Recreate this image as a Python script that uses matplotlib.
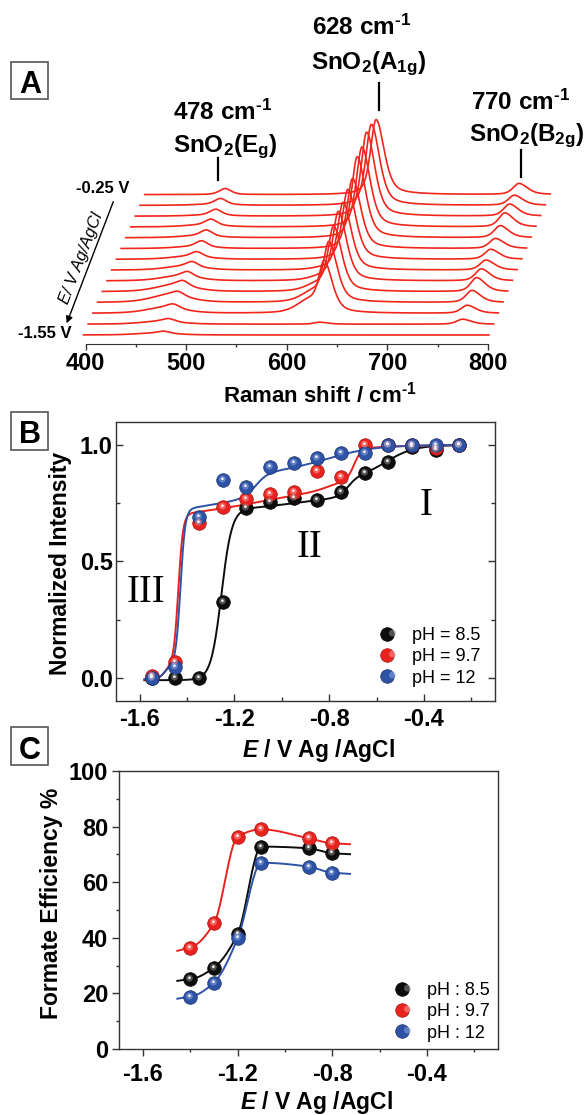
import numpy as np
import matplotlib
matplotlib.use("Agg")
import matplotlib.pyplot as plt
from matplotlib.path import Path
from matplotlib.patches import Rectangle
from matplotlib.legend_handler import HandlerTuple
from matplotlib.ticker import FixedLocator

plt.rcParams['font.family'] = ['Liberation Sans', 'DejaVu Sans']
plt.rcParams['font.weight'] = 'bold'
plt.rcParams['axes.unicode_minus'] = False
plt.rcParams['mathtext.fontset'] = 'custom'
plt.rcParams['mathtext.rm'] = 'Liberation Sans:bold'
plt.rcParams['mathtext.bf'] = 'Liberation Sans:bold'
plt.rcParams['mathtext.it'] = 'Liberation Sans:bold:italic'

W, H = 586, 1115

# ---------------- data ----------------
# panel A: Raman spectra, index 0 = -1.55 V (front) ... 13 = -0.25 V (back)
spectra_potential = [-1.55, -1.45, -1.35, -1.25, -1.15, -1.05, -0.95,
                     -0.85, -0.75, -0.65, -0.55, -0.45, -0.35, -0.25]
raman_shift = np.linspace(398, 801, 900)
a1g_height = [0, 2, 48, 57, 63, 68, 67, 70, 70, 81, 80, 84, 81, 75]
shoulder_height = [0, 0, 12, 10, 7, 4, 2, 0, 0, 0, 0, 0, 0, 0]
eg_height = [2, 3, 4, 4, 5, 5, 5, 5, 6, 6, 6, 6, 6, 6]
eg_broad_height = [2, 3, 6, 8, 7, 5, 4, 3, 2, 2, 2, 1, 1, 0]
b2g_height = [0, 5, 8, 12, 14, 12, 10, 10, 10, 12, 14, 12, 10, 11]
band_center = {'Eg': 478, 'A1g': 628, 'B2g': 770, 'shoulder': 612, 'broad': 470}
shift_ticks = [400, 500, 600, 700, 800]

# panel B: normalized A1g intensity
pot_b = [-1.55, -1.45, -1.35, -1.25, -1.15, -1.05, -0.95,
         -0.85, -0.75, -0.65, -0.55, -0.45, -0.35, -0.25]
int_ph85 = [0.0, 0.0, 0.0, 0.327, 0.728, 0.754, 0.771,
            0.764, 0.80, 0.881, 0.927, 0.993, 0.979, 1.0]
int_ph97 = [0.01, 0.067, 0.664, 0.735, 0.768, 0.79, 0.80,
            0.888, 0.864, 1.0, 1.0, 1.0, 0.985, 1.0]
int_ph12 = [0.0, 0.046, 0.69, 0.85, 0.821, 0.904, 0.924,
            0.943, 0.967, 0.967, 1.0, 1.0, 1.0, 1.0]
# multi-step Boltzmann fits (offset, centers, heights, widths)
fit_ph85 = (-0.01, [-1.255, -0.95, -0.72, -0.56], [0.73, 0.06, 0.08, 0.14],
            [0.022, 0.12, 0.02, 0.06])
fit_ph97 = (-0.02, [-1.495, -1.437, -1.1, -0.8, -0.695],
            [0.05, 0.65, 0.15, 0.04, 0.132], [0.012, 0.01, 0.2, 0.04, 0.015])
fit_ph12 = (-0.01, [-1.495, -1.428, -1.25, -1.11, -0.8],
            [0.05, 0.67, 0.08, 0.10, 0.11], [0.012, 0.01, 0.12, 0.025, 0.1])

# panel C: formate faradaic efficiency
pot_c = [-1.4, -1.3, -1.2, -1.1, -0.9, -0.8]
fe_ph85 = [25.1, 29.3, 41.4, 72.8, 72.2, 70.4]
fe_ph97 = [36.5, 45.2, 76.4, 79.0, 75.8, 74.0]
fe_ph12 = [18.8, 23.9, 39.8, 67.0, 65.6, 63.4]

labels_b = ['pH = 8.5', 'pH = 9.7', 'pH = 12']
labels_c = ['pH : 8.5', 'pH : 9.7', 'pH : 12']

# ---------------- styling ----------------
BLACK, RED, BLUE = '#0d0d0d', '#e8231f', '#2d52a6'
GLOW = {BLACK: '#8c8c8c', RED: '#ff9a96', BLUE: '#8fa5dd'}
EDGE = {BLACK: '#000000', RED: '#a51512', BLUE: '#1b3270'}
SPINE = '#333333'
MS = 9.8
INV = r'$^{\text{-1}}$'

fig = plt.figure(figsize=(W / 100, H / 100), dpi=100)


def axes_px(l, t, r, b):
    return fig.add_axes([l / W, 1 - b / H, (r - l) / W, (b - t) / H])


def ftext(x, y, s, **kw):
    return fig.text(x / W, 1 - y / H, s, **kw)


def band(x, c, h, wl, wr):
    w = np.where(x < c, wl, wr)
    u = (x - c) / w
    return h * (0.5 / (1 + u ** 2) + 0.5 * np.exp(-np.log(2) * u ** 2))


def steps(x, fit):
    y0, cs, hs, ws = fit
    y = np.full_like(x, y0)
    for c, h, w in zip(cs, hs, ws):
        y += h / (1 + np.exp(-(x - c) / w))
    return y


def pchip(xk, yk, xs, end_scale=0.25):
    xk = np.asarray(xk, float)
    yk = np.asarray(yk, float)
    h = np.diff(xk)
    d = np.diff(yk) / h
    m = np.zeros_like(yk)
    for k in range(1, len(xk) - 1):
        if d[k - 1] * d[k] > 0:
            w1 = 2 * h[k] + h[k - 1]
            w2 = h[k] + 2 * h[k - 1]
            m[k] = (w1 + w2) / (w1 / d[k - 1] + w2 / d[k])
    m[0] = end_scale * d[0]
    m[-1] = end_scale * d[-1]
    idx = np.clip(np.searchsorted(xk, xs) - 1, 0, len(xk) - 2)
    t = (xs - xk[idx]) / h[idx]
    hh = h[idx]
    ys = ((2 * t ** 3 - 3 * t ** 2 + 1) * yk[idx] + (t ** 3 - 2 * t ** 2 + t) * hh * m[idx]
          + (-2 * t ** 3 + 3 * t ** 2) * yk[idx + 1] + (t ** 3 - t ** 2) * hh * m[idx + 1])
    lo = xs < xk[0]
    hi = xs > xk[-1]
    ys[lo] = yk[0] + m[0] * (xs[lo] - xk[0])
    ys[hi] = yk[-1] + m[-1] * (xs[hi] - xk[-1])
    return ys


def glint(cx, cy, r):
    return Path.make_compound_path(
        Path([[-0.5, -0.5], [0.5, 0.5]], [Path.MOVETO, Path.MOVETO]),
        Path.circle((cx, cy), r))


def balls(ax, x, y, color):
    kw = dict(ls='none', ms=MS, clip_on=False)
    base = ax.plot(x, y, marker='o', mfc=color, mec=EDGE[color], mew=0.5, zorder=4, **kw)[0]
    soft = ax.plot(x, y, marker=glint(-0.08, 0.1, 0.25), mfc=GLOW[color], mec='none',
                   alpha=0.55, zorder=4.1, **kw)[0]
    spot = ax.plot(x, y, marker=glint(-0.08, 0.13, 0.1), mfc='white', mec='none',
                   alpha=0.9, zorder=4.2, **kw)[0]
    return (base, soft, spot)


def box_label(x0, y0, x1, y1, letter, cx, base):
    fig.add_artist(Rectangle((x0 / W, 1 - y1 / H), (x1 - x0) / W, (y1 - y0) / H,
                             transform=fig.transFigure, fill=False, ec='#555555', lw=1.2))
    ftext(cx, base, letter, ha='center', va='baseline', fontsize=22, fontweight='bold')


def frame(ax):
    for s in ax.spines.values():
        s.set_color(SPINE)
        s.set_linewidth(1.0)


def legend_px(ax, handles, labels, left, top):
    ax.legend(handles, labels, handler_map={tuple: HandlerTuple(ndivide=None, pad=0)},
              loc='upper left', bbox_to_anchor=(left / W, 1 - top / H),
              bbox_transform=fig.transFigure, frameon=False, borderpad=0,
              borderaxespad=0, handlelength=1.0, handletextpad=0.57, labelspacing=0.24,
              numpoints=1, prop={'size': 13, 'weight': 'normal'})


# ---------------- panel A ----------------
ax_a = axes_px(70, 100, 560, 344)
px_per_cm, x400 = 1.006, 85.5
ax_a.set_xlim(400 - (x400 - 70) / px_per_cm, 400 + (560 - x400) / px_per_cm)
ax_a.set_ylim(0, 244)
ax_a.patch.set_visible(False)
for s in ['top', 'right', 'left']:
    ax_a.spines[s].set_visible(False)
ax_a.spines['bottom'].set_bounds(400, 800)
ax_a.spines['bottom'].set_color(SPINE)
ax_a.set_yticks([])
ax_a.set_xticks(shift_ticks)
ax_a.xaxis.set_minor_locator(FixedLocator([450, 550, 650, 750]))
ax_a.tick_params(axis='x', which='major', direction='out', length=4, width=1,
                 color=SPINE, labelsize=17, pad=1.5)
ax_a.tick_params(axis='x', which='minor', direction='out', length=2.2, width=1, color=SPINE)

dx_trace, dy_trace, y_first = 4.68, 10.8, 9.0
for i in range(len(spectra_potential) - 1, -1, -1):
    x = raman_shift
    y = (band(x, band_center['A1g'], a1g_height[i], 6.5, 9.5)
         + band(x, band_center['shoulder'], shoulder_height[i], 14, 14)
         + band(x, band_center['Eg'], eg_height[i], 7, 7)
         + band(x, band_center['broad'], eg_broad_height[i], 22, 22)
         + band(x, band_center['B2g'], b2g_height[i], 7, 10))
    ax_a.plot(x + i * dx_trace, y_first + i * dy_trace + y, color='#f0261c',
              lw=1.2, clip_on=False, solid_joinstyle='round')

# peak markers and labels
for pos, y0, y1 in [(532, 164, 186), (692, 234, 261), (833, 167, 194)]:
    ax_a.plot([pos, pos], [y0, y1], color='black', lw=1.6, clip_on=False)

ftext(223, 120, '478 cm' + INV, ha='center', va='baseline', fontsize=17.5)
ftext(225, 152.5, r'SnO$_2$(E$_\mathrm{g}$)', ha='center', va='baseline', fontsize=17.5)
ftext(362, 35, '628 cm' + INV, ha='center', va='baseline', fontsize=17.5)
ftext(369, 69.5, r'SnO$_2$(A$_\mathrm{1g}$)', ha='center', va='baseline', fontsize=17.5)
ftext(521, 109.5, '770 cm' + INV, ha='center', va='baseline', fontsize=17.5)
ftext(527, 141.5, r'SnO$_2$(B$_\mathrm{2g}$)', ha='center', va='baseline', fontsize=17.5)

ftext(103, 193, '-0.25 V', ha='center', va='baseline', fontsize=12)
ftext(45, 338, '-1.55 V', ha='center', va='baseline', fontsize=12)
ax_a.annotate('', xy=(66.7, H - 323.3), xytext=(113.3, H - 201.7),
              xycoords='figure pixels', textcoords='figure pixels',
              arrowprops=dict(arrowstyle='-|>', lw=1.0, color='black',
                              mutation_scale=10, shrinkA=0, shrinkB=0))
ftext(81, 258, 'E/ V Ag/AgCl', ha='center', va='center', rotation=69,
      fontsize=12, fontstyle='italic', fontweight='normal')
ftext(320, 403, 'Raman shift / cm' + INV, ha='center', va='baseline', fontsize=16)
box_label(10.5, 62, 48, 99, 'A', 30, 93.3)

# ---------------- panel B ----------------
ax_b = axes_px(116, 421.7, 495, 701.3)
ax_b.set_xlim(-1.7, -0.1)
ax_b.set_ylim(-0.1, 1.1)
frame(ax_b)
ax_b.set_xticks([-1.6, -1.2, -0.8, -0.4])
ax_b.xaxis.set_minor_locator(FixedLocator([-1.4, -1.0, -0.6, -0.2]))
ax_b.set_yticks([0.0, 0.5, 1.0])
ax_b.yaxis.set_minor_locator(FixedLocator([0.25, 0.75]))
ax_b.tick_params(which='both', direction='in', right=True, top=False, width=1, color=SPINE)
ax_b.tick_params(which='major', length=5, labelsize=17)
ax_b.tick_params(which='minor', length=3)
ax_b.tick_params(axis='x', pad=5)
ax_b.tick_params(axis='y', pad=2.5)

fit_x = np.linspace(-1.58, -0.25, 600)
for fit, col in [(fit_ph85, BLACK), (fit_ph97, RED), (fit_ph12, BLUE)]:
    ax_b.plot(fit_x, steps(fit_x, fit), color=col, lw=1.4, zorder=3)
handles_b = [balls(ax_b, pot_b, vals, col)
             for vals, col in [(int_ph85, BLACK), (int_ph97, RED), (int_ph12, BLUE)]]

for s, x, y in [('I', -0.39, 0.742), ('II', -0.885, 0.562), ('III', -1.572, 0.365)]:
    ax_b.text(x, y, s, ha='center', va='center', fontsize=28, fontweight='normal',
              family=['Liberation Serif', 'DejaVu Serif'])

legend_px(ax_b, handles_b, labels_b, 384, 627)

ftext(60, 563, 'Normalized Intensity', ha='center', va='center', rotation=90, fontsize=16.5)
ftext(318, 757, r'$\mathit{E}$ / V Ag /AgCl', ha='center', va='baseline', fontsize=16.5)
box_label(10.5, 412, 48, 450, 'B', 29.6, 443.3)

# ---------------- panel C ----------------
ax_c = axes_px(119.3, 771, 498, 1049)
ax_c.set_xlim(-1.7, -0.1)
ax_c.set_ylim(0, 100)
frame(ax_c)
ax_c.set_xticks([-1.6, -1.2, -0.8, -0.4])
ax_c.xaxis.set_minor_locator(FixedLocator([-1.4, -1.0, -0.6, -0.2]))
ax_c.set_yticks([0, 20, 40, 60, 80, 100])
ax_c.yaxis.set_minor_locator(FixedLocator([10, 30, 50, 70, 90]))
ax_c.tick_params(which='both', direction='out', width=1, color=SPINE)
ax_c.tick_params(which='major', length=5, labelsize=17)
ax_c.tick_params(which='minor', length=2.5)
ax_c.tick_params(axis='x', pad=5)
ax_c.tick_params(axis='y', pad=3)

curve_x = np.linspace(-1.455, -0.725, 500)
for vals, col in [(fe_ph85, BLACK), (fe_ph97, RED), (fe_ph12, BLUE)]:
    ax_c.plot(curve_x, pchip(pot_c, vals, curve_x), color=col, lw=1.4, zorder=3)
handles_c = [balls(ax_c, pot_c, vals, col)
             for vals, col in [(fe_ph85, BLACK), (fe_ph97, RED), (fe_ph12, BLUE)]]

legend_px(ax_c, handles_c, labels_c, 399, 982)

ftext(51.5, 903, 'Formate Efficiency %', ha='center', va='center', rotation=90, fontsize=16.5)
ftext(316, 1109, r'$\mathit{E}$ / V Ag /AgCl', ha='center', va='baseline', fontsize=16.5)
box_label(10.5, 727, 48, 765, 'C', 29.6, 759.3)

fig.savefig('out.png', dpi=100)
